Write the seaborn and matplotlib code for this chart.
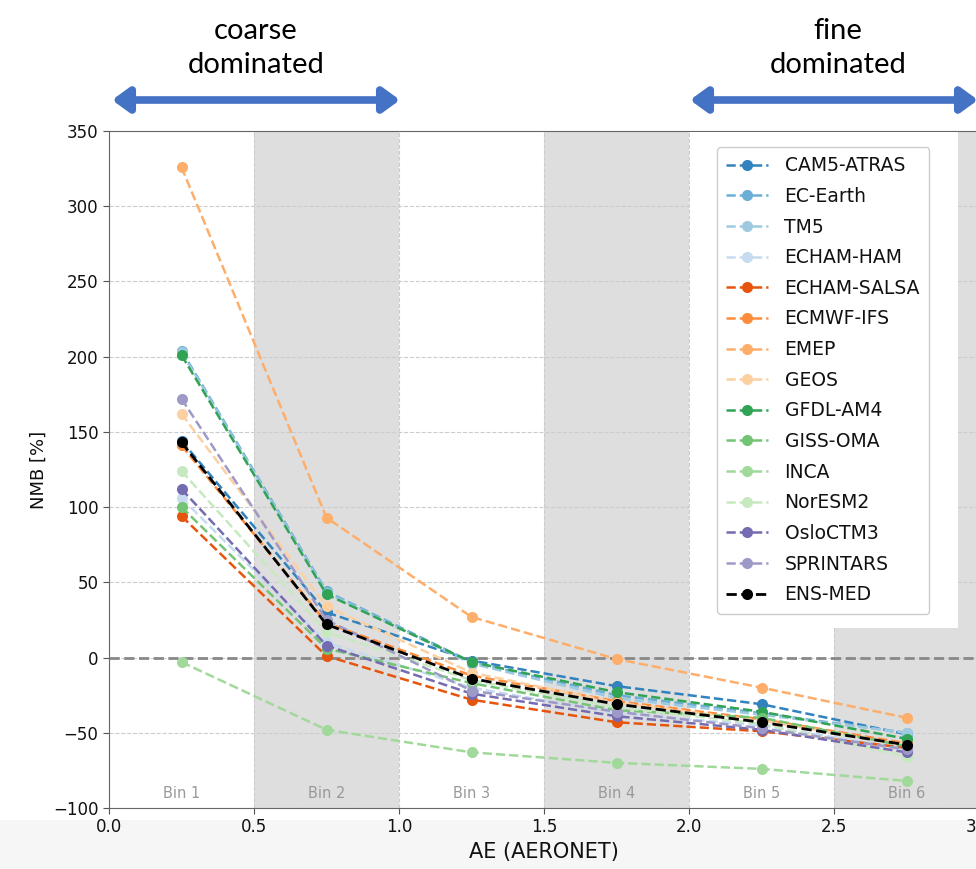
import matplotlib
matplotlib.use('Agg')
import matplotlib.pyplot as plt
from matplotlib.patches import Rectangle, FancyArrowPatch
import seaborn as sns

# 데이터 : AE bin 중심값, 모델별 NMB [%]
ae_bins = [0.25, 0.75, 1.25, 1.75, 2.25, 2.75]
bin_labels = ['Bin 1', 'Bin 2', 'Bin 3', 'Bin 4', 'Bin 5', 'Bin 6']
models = ['CAM5-ATRAS', 'EC-Earth', 'TM5', 'ECHAM-HAM', 'ECHAM-SALSA', 'ECMWF-IFS',
          'EMEP', 'GEOS', 'GFDL-AM4', 'GISS-OMA', 'INCA', 'NorESM2', 'OsloCTM3', 'SPRINTARS']

cam5_atras = [144, 30, -2, -19, -31, -51]
ec_earth = [204, 44, -3, -25, -37, -50]
tm5 = [203, 43, -4, -27, -38, -50]
echam_ham = [106, 10, -20, -37, -45, -61]
echam_salsa = [94, 1, -28, -43, -49, -60]
ecmwf_ifs = [141, 23, -12, -29, -41, -57]
emep = [326, 93, 27, -1, -20, -40]
geos = [162, 34, -10, -30, -42, -58]
gfdl_am4 = [201, 42, -3, -23, -36, -54]
giss_oma = [100, 6, -17, -35, -40, -59]
inca = [-3, -48, -63, -70, -74, -82]
noresm2 = [124, 17, -15, -33, -44, -66]
oslo_ctm3 = [112, 8, -24, -39, -48, -63]
sprintars = [172, 25, -22, -36, -47, -61]
ens_med = [143, 22, -14, -31, -43, -58]

nmb = [cam5_atras, ec_earth, tm5, echam_ham, echam_salsa, ecmwf_ifs, emep, geos,
       gfdl_am4, giss_oma, inca, noresm2, oslo_ctm3, sprintars]

sns.set_style('white')
palette = sns.color_palette('tab20c', 20)

fig = plt.figure(figsize=(9.76, 8.69), dpi=100)
ax = fig.add_axes([109/976, 1-808/869, 870/976, 677/869])

# 회색 밴드 (Bin 2, 4, 6)
for x0 in [0.5, 1.5, 2.5]:
    ax.axvspan(x0, x0 + 0.5, color='#dedede', zorder=0, lw=0)

ax.set_axisbelow(True)
ax.grid(True, linestyle='--', color='#cccccc', linewidth=0.8)
ax.axhline(0, color='#888888', linestyle='--', linewidth=2, zorder=1.5)

# 모델별 선
for i, name in enumerate(models):
    sns.lineplot(x=ae_bins, y=nmb[i], color=palette[i], marker='o', markersize=8,
                 markeredgewidth=0, linestyle='--', linewidth=1.8, label=name,
                 legend=False, ax=ax, zorder=3)
sns.lineplot(x=ae_bins, y=ens_med, color='black', marker='o', markersize=8,
             markeredgewidth=0, linestyle='--', linewidth=2, label='ENS-MED',
             legend=False, ax=ax, zorder=4)

for xb, lb in zip(ae_bins, bin_labels):
    ax.text(xb, 0.01, lb, transform=ax.get_xaxis_transform(), ha='center', va='bottom',
            fontsize=10.5, color='#999999')

ax.set_xlim(0, 3.0)
ax.set_ylim(-100, 350)
ax.set_xticks([0, 0.5, 1.0, 1.5, 2.0, 2.5, 3.0])
ax.set_yticks(range(-100, 351, 50))
ax.tick_params(axis='both', labelsize=12, direction='out', length=4, color='#555555',
               labelcolor='#111111', bottom=True, left=True)
for s in ax.spines.values():
    s.set_color('#666666')
ax.set_xlabel('AE (AERONET)', fontsize=15, color='#111111')
ax.set_ylabel('NMB [%]', fontsize=13, color='#111111')

# 오른쪽 위 흰 박스 + 범례
fig.add_artist(Rectangle((690/976, 1-628/869), (958-690)/976, (628-132)/869,
                         transform=fig.transFigure, facecolor='white', edgecolor='none', zorder=1))
handles, labels = ax.get_legend_handles_labels()
leg = fig.legend(handles, labels, loc='upper left', bbox_to_anchor=(717/976, 1-147/869),
                 bbox_transform=fig.transFigure, borderaxespad=0, fontsize=13.5,
                 labelspacing=0.62, handlelength=2.2, handletextpad=0.9, frameon=True,
                 edgecolor='#cccccc', framealpha=1, borderpad=0.5)
leg.set_zorder(2)
for t in leg.get_texts():
    t.set_color('#111111')

# 아래쪽 회색 띠
fig.add_artist(Rectangle((0, 0), 1, (869-820)/869, transform=fig.transFigure,
                         facecolor='#f6f6f6', edgecolor='none', zorder=-1))

# 위쪽 화살표, 텍스트
fig.text(256/976, 1-48/869, 'coarse\ndominated', ha='center', va='center', fontsize=21,
         family='Lato', linespacing=1.35, color='black')
fig.text(838/976, 1-48/869, 'fine\ndominated', ha='center', va='center', fontsize=21,
         family='Lato', linespacing=1.35, color='black')
for xa, xb in [(112, 400), (690, 978)]:
    arr = FancyArrowPatch((xa/976, 1-100/869), (xb/976, 1-100/869), transform=fig.transFigure,
                          arrowstyle='<|-|>,head_length=0.55,head_width=0.4', mutation_scale=18,
                          shrinkA=0, shrinkB=0, linewidth=5.5, facecolor='#4472c4',
                          edgecolor='#4472c4')
    fig.add_artist(arr)

fig.savefig('out.png', dpi=100)
